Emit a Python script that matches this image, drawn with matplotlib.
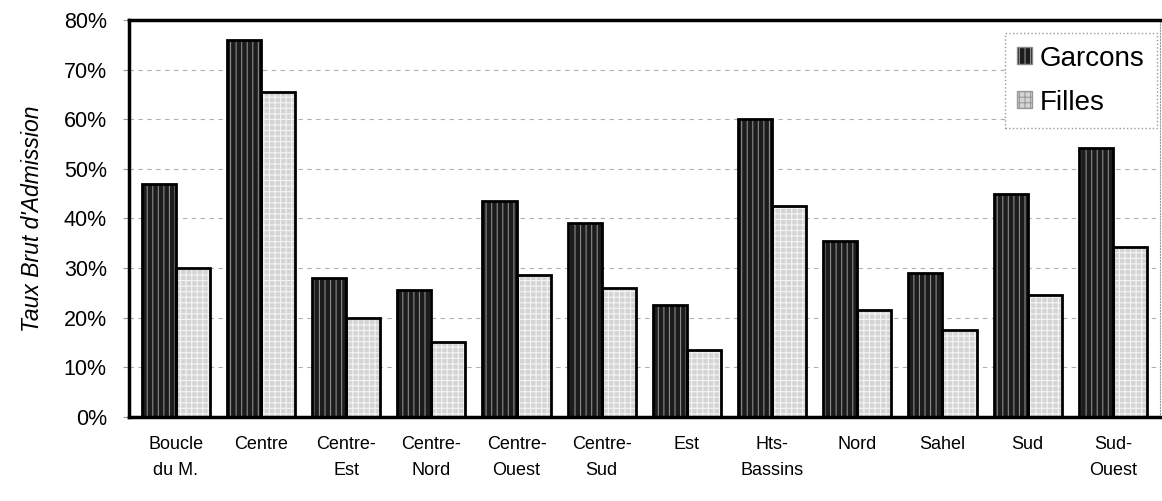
import matplotlib.pyplot as plt
import numpy as np
from matplotlib.patches import Patch
from matplotlib.ticker import PercentFormatter

# regions and admission rates (%)
regions = ["Boucle\ndu M.", "Centre", "Centre-\nEst", "Centre-\nNord", "Centre-\nOuest",
           "Centre-\nSud", "Est", "Hts-\nBassins", "Nord", "Sahel", "Sud", "Sud-\nOuest"]
garcons = [47, 76, 28, 25.5, 43.5, 39, 22.5, 60, 35.5, 29, 45, 54.2]
filles = [30, 65.5, 20, 15, 28.5, 26, 13.5, 42.5, 21.5, 17.5, 24.6, 34.3]

plt.rcParams['font.family'] = ['Liberation Sans Narrow', 'Liberation Sans', 'DejaVu Sans']
plt.rcParams['hatch.linewidth'] = 0.8

fig = plt.figure(figsize=(11.62, 5.01), dpi=100)
ax = fig.add_axes([0.111, 0.168, 0.887, 0.792])

x = np.arange(len(regions))
w = 0.4

# fill with hatch first, then a thick black outline on top
ax.bar(x - w/2, garcons, w, color='#1c1c1c', hatch='|||', edgecolor='#8a8a8a', linewidth=0, zorder=2)
ax.bar(x + w/2, filles, w, color='#d4d4d4', hatch='+++', edgecolor='#f4f4f4', linewidth=0, zorder=2)
ax.bar(x - w/2, garcons, w, fill=False, edgecolor='black', linewidth=2, zorder=3)
ax.bar(x + w/2, filles, w, fill=False, edgecolor='black', linewidth=2, zorder=3)

ax.set_xlim(-0.55, len(regions) - 0.45)
ax.set_ylim(0, 80)
ax.set_yticks(range(0, 81, 10))
ax.yaxis.set_major_formatter(PercentFormatter(decimals=0))
ax.set_xticks(x)
ax.set_xticklabels(regions, fontsize=13, linespacing=1.7, va='top')
ax.tick_params(axis='x', length=0, pad=14)
ax.tick_params(axis='y', labelsize=15.5, length=4, pad=12, color='#999999')
for lab in ax.get_yticklabels():
    lab.set_fontfamily(['Liberation Sans', 'DejaVu Sans'])

ax.set_ylabel("Taux Brut d'Admission", fontsize=16.5, style='italic', labelpad=14,
              fontfamily=['Liberation Sans', 'DejaVu Sans'])

ax.yaxis.grid(True, linestyle=(0, (4, 4)), color='#b0b0b0', linewidth=0.8, zorder=0)
ax.set_axisbelow(True)

ax.spines['left'].set_linewidth(2.5)
ax.spines['bottom'].set_linewidth(2.5)
ax.spines['top'].set_linewidth(2.5)
ax.spines['right'].set_linestyle(':')
ax.spines['right'].set_color('#999999')

handles = [Patch(facecolor='#1c1c1c', hatch='|||', edgecolor='#8a8a8a', label='Garcons'),
           Patch(facecolor='#d4d4d4', hatch='+++', edgecolor='#999999', label='Filles')]
leg = ax.legend(handles=handles, loc='upper right', bbox_to_anchor=(0.997, 0.967),
                borderaxespad=0, handlelength=0.55, handleheight=0.55, handletextpad=0.25,
                labelspacing=0.65, borderpad=0.45,
                fancybox=False, edgecolor='#999999', framealpha=1,
                prop={'family': ['Liberation Sans', 'DejaVu Sans'], 'size': 20})
leg.get_frame().set_linestyle(':')

fig.savefig("out.png", dpi=100)
